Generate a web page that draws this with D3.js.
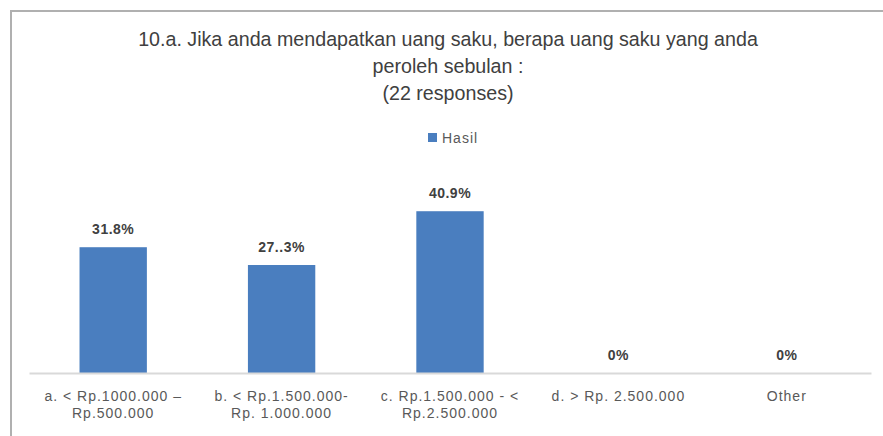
<!DOCTYPE html>
<html>
<head>
<meta charset="utf-8">
<script src="https://cdn.jsdelivr.net/npm/d3@7/dist/d3.min.js"></script>
<style>
  html, body { margin: 0; padding: 0; background: #ffffff; }
  svg { display: block; }
</style>
</head>
<body>
<svg id="chart" width="883" height="436"></svg>
<script>
// ---- data ----
const titleLines = [
  "10.a. Jika anda mendapatkan uang saku, berapa uang saku yang anda",
  "peroleh sebulan :",
  "(22 responses)"
];
const seriesName = "Hasil";
const categories = [
  "a. < Rp.1000.000 –\nRp.500.000",
  "b. < Rp.1.500.000-\nRp. 1.000.000",
  "c. Rp.1.500.000 - <\nRp.2.500.000",
  "d. > Rp. 2.500.000",
  "Other"
];
const values = [31.8, 27.3, 40.9, 0, 0];
const valueLabels = ["31.8%", "27..3%", "40.9%", "0%", "0%"];

// ---- layout ----
const W = 883, H = 436;
const plot = { left: 29, right: 871, top: 195, bottom: 373 };
const barColor = "#4a7ebf";
const fontFamily = "'Liberation Sans', Arial, sans-serif";

const svg = d3.select("#chart");

// border of chart area (cropped at right / bottom)
svg.append("rect")
  .attr("x", 11).attr("y", 11)
  .attr("width", W + 20).attr("height", H + 20)
  .attr("fill", "#ffffff")
  .attr("stroke", "#b0b0b0")
  .attr("stroke-width", 2);

// scales
const x = d3.scaleBand()
  .domain(categories)
  .range([plot.left, plot.right])
  .paddingInner(0.6)
  .paddingOuter(0.3);

const y = d3.scaleLinear()
  .domain([0, 45])
  .range([plot.bottom, plot.top]);

// title
const title = svg.append("g").attr("class", "title")
  .attr("font-family", fontFamily)
  .attr("fill", "#404040")
  .attr("text-anchor", "middle");
const tLines = title.selectAll("text").data(titleLines).join("text")
  .attr("x", 448)
  .attr("y", (d, i) => 46 + i * 27)
  .attr("font-size", 16)
  .text(d => d);
// fit first line to target width
const w0 = tLines.node().getComputedTextLength();
const titleSize = 16 * 620 / w0;
tLines.attr("font-size", titleSize);

// legend
const legend = svg.append("g").attr("class", "legend");
legend.append("rect")
  .attr("x", 428).attr("y", 133)
  .attr("width", 9).attr("height", 9)
  .attr("fill", barColor);
legend.append("text")
  .attr("x", 442).attr("y", 138)
  .attr("dy", "0.35em")
  .attr("font-family", fontFamily)
  .attr("font-size", 14)
  .attr("letter-spacing", 1)
  .attr("fill", "#595959")
  .text(seriesName);

// bars
const data = categories.map((c, i) => ({ c, v: values[i], label: valueLabels[i] }));
svg.append("g").attr("class", "bars")
  .selectAll("rect").data(data).join("rect")
  .attr("x", d => x(d.c))
  .attr("width", x.bandwidth())
  .attr("y", d => y(d.v))
  .attr("height", d => y(0) - y(d.v))
  .attr("fill", barColor);

// value labels
svg.append("g").attr("class", "value-labels")
  .selectAll("text").data(data).join("text")
  .attr("x", d => x(d.c) + x.bandwidth() / 2)
  .attr("y", d => y(d.v) - 18)
  .attr("dy", "0.35em")
  .attr("text-anchor", "middle")
  .attr("font-family", fontFamily)
  .attr("font-size", 14)
  .attr("letter-spacing", 0.5)
  .attr("font-weight", "bold")
  .attr("fill", "#404040")
  .text(d => d.label);

// x axis
const xAxis = d3.axisBottom(x).tickSize(0).tickSizeOuter(0).tickFormat(() => "");
const axisG = svg.append("g")
  .attr("class", "x-axis")
  .attr("transform", `translate(0,${plot.bottom})`)
  .call(xAxis);
axisG.select(".domain")
  .attr("stroke", "#d9d9d9")
  .attr("stroke-width", 2);

axisG.selectAll(".tick").each(function (d) {
  const g = d3.select(this);
  g.select("text").remove();
  const lines = d.split("\n");
  const t = g.append("text")
    .attr("text-anchor", "middle")
    .attr("font-family", fontFamily)
    .attr("font-size", 14)
    .attr("letter-spacing", 1)
    .attr("fill", "#595959");
  lines.forEach((ln, i) => {
    t.append("tspan")
      .attr("x", 0)
      .attr("y", 28 + i * 17)
      .text(ln);
  });
});
</script>
</body>
</html>
